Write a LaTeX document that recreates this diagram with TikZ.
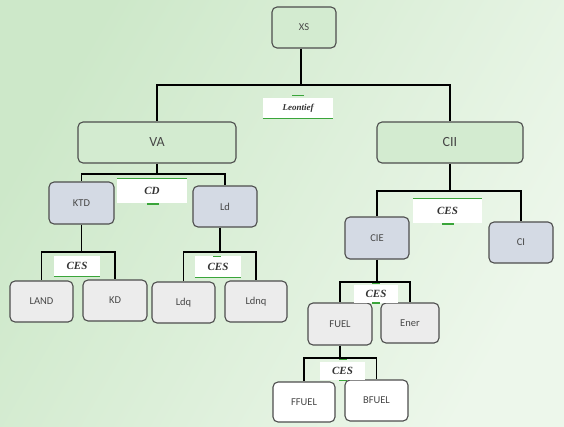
\documentclass[tikz,border=0pt]{standalone}
\usepackage{fontspec}
\setmainfont{Liberation Serif}
\newfontfamily\boxfont{Carlito}
\definecolor{bgA}{HTML}{EDF7EB}
\definecolor{bgB}{HTML}{CDE8C9}
\definecolor{gfill}{HTML}{D3EBD0}
\definecolor{bfill}{HTML}{D4DAE4}
\definecolor{lfill}{HTML}{ECECEC}
\definecolor{edgec}{HTML}{4D4D4D}
\definecolor{gline}{HTML}{3AA53A}
\tikzset{
  nbox/.style={draw=edgec, line width=1.1pt, rounded corners=5pt, inner sep=0pt, font=\boxfont\fontsize{10.5}{11}\selectfont, text=black!72},
  gbox/.style={nbox, fill=gfill},
  bbox/.style={nbox, fill=bfill},
  lbox/.style={nbox, fill=lfill},
  wbox/.style={nbox, fill=white},
  lab/.style={fill=white, inner sep=0pt, font=\bfseries\itshape\fontsize{11}{12}\selectfont, text=black!80},
  conn/.style={line width=1.8pt, black},
  gl/.style={gline, line width=1.1pt}
}
\begin{document}
\begin{tikzpicture}[x=1pt,y=-1pt]
\shade[left color=bgB, right color=bgA, shading angle=60] (0,0) rectangle (564,426);
\useasboundingbox (0,0) rectangle (564,426);
% nodes
\node[gbox, minimum width=64pt, minimum height=41pt] (XS) at (304,27.5) {XS};
\node[gbox, minimum width=158pt, minimum height=41pt, font=\boxfont\fontsize{14}{15}\selectfont] (VA) at (157,142.5) {VA};
\node[gbox, minimum width=146pt, minimum height=41pt, font=\boxfont\fontsize{14}{15}\selectfont] (CII) at (450,142.5) {CII};
\node[bbox, minimum width=65pt, minimum height=42pt] (KTD) at (81.5,203) {KTD};
\node[bbox, minimum width=64pt, minimum height=41pt] (Ld) at (225,206.5) {Ld};
\node[bbox, minimum width=64pt, minimum height=42pt] (CIE) at (377,238) {CIE};
\node[bbox, minimum width=64pt, minimum height=41pt] (CI) at (521,242.5) {CI};
\node[lbox, minimum width=63pt, minimum height=41pt] (LAND) at (41.5,301.5) {LAND};
\node[lbox, minimum width=64pt, minimum height=41pt] (KD) at (115,300.5) {KD};
\node[lbox, minimum width=63pt, minimum height=41pt] (Ldq) at (183.5,302.5) {Ldq};
\node[lbox, minimum width=62pt, minimum height=41pt] (Ldnq) at (256,301.5) {Ldnq};
\node[lbox, minimum width=64pt, minimum height=42pt] (FUEL) at (340,324) {FUEL};
\node[lbox, minimum width=58pt, minimum height=40pt] (Ener) at (410,323) {Ener};
\node[wbox, minimum width=62pt, minimum height=40pt] (FFUEL) at (304,402) {FFUEL};
\node[wbox, minimum width=63pt, minimum height=41pt] (BFUEL) at (376.5,400.5) {BFUEL};
% junctions
\coordinate (jXS) at (301,85);
\coordinate (jVA) at (157,174);
\coordinate (jCII) at (450,191);
\coordinate (jKTD) at (81.5,252);
\coordinate (jLd) at (220,252);
\coordinate (jCIE) at (377,282);
\coordinate (jFUEL) at (340,358);
% connectors
\draw[conn] (XS.south -| jXS) -- (jXS);
\draw[conn] (jXS) -| (VA.north);
\draw[conn] (jXS) -| (CII.north);
\draw[conn] (VA.south) -- (jVA);
\draw[conn] (jVA) -| (KTD.north);
\draw[conn] (jVA) -| (Ld.north);
\draw[conn] (CII.south) -- (jCII);
\draw[conn] (jCII) -| (CIE.north);
\draw[conn] (jCII) -| (CI.north);
\draw[conn] (KTD.south) -- (jKTD);
\draw[conn] (jKTD) -| (LAND.north);
\draw[conn] (jKTD) -| (KD.north);
\draw[conn] (Ld.south -| jLd) -- (jLd);
\draw[conn] (jLd) -| (Ldq.north);
\draw[conn] (jLd) -| (Ldnq.north);
\draw[conn] (CIE.south) -- (jCIE);
\draw[conn] (jCIE) -| (FUEL.north);
\draw[conn] (jCIE) -| (Ener.north);
\draw[conn] (FUEL.south) -- (jFUEL);
\draw[conn] (jFUEL) -| (FFUEL.north);
\draw[conn] (jFUEL) -| (BFUEL.north);
% labels
\node[lab, minimum width=70pt, minimum height=20pt, font=\bfseries\itshape\fontsize{9}{10}\selectfont] (L0) at (298,108) {Leontief};
\draw[gl] (292,95.5) -- (304,95.5);
\draw[gl] (L0.south west) -- (L0.south east);
\node[lab, minimum width=70pt, minimum height=24pt] (L1) at (152,191) {CD};
\draw[gl] (L1.north west) -- (L1.north east);
\draw[gl] (147,204) -- (159,204);
\node[lab, minimum width=69pt, minimum height=24pt] (L2) at (447.5,211) {CES};
\draw[gl] (L2.north west) -- (L2.north east);
\draw[gl] (442,224) -- (454,224);
\node[lab, minimum width=46pt, minimum height=20pt] (L3) at (77,266) {CES};
\draw[gl] (L3.south west) -- (L3.south east);
\node[lab, minimum width=46pt, minimum height=21pt] (L4) at (218,266.5) {CES};
\draw[gl] (213,256.5) -- (221,256.5);
\draw[gl] (L4.south west) -- (L4.south east);
\node[lab, minimum width=44pt, minimum height=18pt] (L5) at (376,294) {CES};
\draw[gl] (372,283.5) -- (380,283.5);
\draw[gl] (372,303) -- (380,303);
\node[lab, minimum width=45pt, minimum height=18pt] (L6) at (342.5,371) {CES};
\draw[gl] (339,359.5) -- (347,359.5);
\draw[gl] (339,380.5) -- (347,380.5);
\end{tikzpicture}
\end{document}
